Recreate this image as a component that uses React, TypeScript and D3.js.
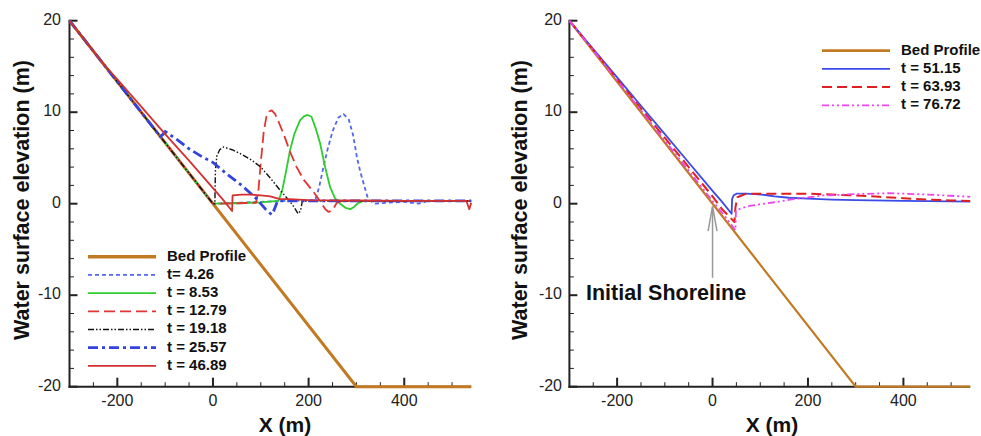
import React from 'react';
import * as d3 from 'd3';

// ---------- data ----------
const xTicks = [-200, 0, 200, 400];
const xMinorTicks = [-250, -150, -100, -50, 50, 100, 150, 250, 300, 350, 450, 500];
const yTicks = [-20, -10, 0, 10, 20];
const yMinorTicks = [-18, -16, -14, -12, -8, -6, -4, -2, 2, 4, 6, 8, 12, 14, 16, 18];

const bedX = [-300, 300, 540];
const bedY = [20, -20, -20];

// left panel
const t426X = [-300, 0, 50, 100, 150, 200, 214, 222, 231, 240, 250, 262, 273, 284, 293, 301, 308, 315, 325, 340, 360, 400, 430, 450, 500, 540];
const t426Y = [20, 0, 0.1, 0.2, 0.3, 0.35, 0.4, 1.8, 4.0, 6.0, 7.9, 9.4, 9.8, 9.2, 7.5, 5.1, 3.5, 2.2, 0.4, 0.0, 0.1, 0.2, 0.0, 0.3, 0.3, 0.3];

const t853X = [-300, 0, 50, 100, 137, 145, 152, 161, 170, 182, 190, 198, 206, 215, 224, 235, 245, 255, 266, 277, 287, 295, 303, 315, 350, 400, 450, 500, 540];
const t853Y = [20, 0, 0.05, 0.15, 0.3, 1.5, 3.3, 5.8, 7.6, 9.1, 9.55, 9.7, 9.5, 8.2, 6.6, 3.9, 1.8, 0.6, 0.0, -0.45, -0.6, -0.35, 0.05, 0.3, 0.3, 0.3, 0.3, 0.3, 0.3];

const t1279X = [-300, 0, 50, 90, 95, 100, 106, 112, 118, 123, 130, 140, 150, 161, 175, 190, 210, 225, 235, 242, 250, 259, 270, 300, 350, 400, 450, 500, 540];
const t1279Y = [20, 0, 0.05, 0.1, 1.4, 4.5, 7.8, 9.6, 10.1, 10.2, 9.8, 8.6, 7.3, 5.7, 4.0, 2.6, 1.3, 0.2, -0.6, -0.9, -0.7, 0.1, 0.3, 0.3, 0.3, 0.3, 0.3, 0.3, 0.3];

const t1918X = [-300, 0, 4, 5, 8, 14, 22, 40, 60, 80, 100, 120, 140, 160, 170, 178, 183, 187, 200, 250, 300, 350, 400, 450, 500, 540];
const t1918Y = [20, 0, 0, 3.5, 5.2, 5.9, 6.2, 5.9, 5.4, 4.8, 4.0, 2.8, 1.5, 0.3, -0.4, -1.1, -0.8, 0.3, 0.3, 0.3, 0.3, 0.3, 0.3, 0.3, 0.3, 0.3];

const t2557X = [-300, -110, -104, -100, -75, -50, -25, 0, 30, 60, 90, 110, 123, 127, 135, 150, 200, 250, 300, 350, 400, 450, 500, 540];
const t2557Y = [20, 7.33, 7.6, 7.9, 7.0, 6.0, 5.2, 4.5, 3.2, 2.0, 0.6, -0.6, -1.2, -0.8, 0.3, 0.3, 0.3, 0.3, 0.3, 0.3, 0.3, 0.3, 0.3, 0.3];

const t4689X = [-300, -228, -200, -150, -100, -50, 0, 20, 40, 41, 60, 80, 100, 120, 140, 160, 200, 300, 400, 500, 530, 536, 540];
const t4689Y = [20, 15.2, 13.6, 10.6, 7.6, 4.7, 1.7, 0.5, -0.8, 0.9, 1.0, 1.0, 0.9, 0.8, 0.5, 0.5, 0.4, 0.35, 0.3, 0.3, 0.3, -0.6, 0.1];

// right panel
const t5115X = [-300, -250, -200, -150, -100, -50, 0, 20, 40, 41, 44, 50, 70, 90, 110, 130, 160, 200, 250, 300, 400, 500, 540];
const t5115Y = [20, 16.9, 13.8, 10.7, 7.6, 4.5, 1.4, 0.2, -1.1, 0.5, 0.9, 1.1, 1.1, 1.05, 0.95, 0.8, 0.65, 0.55, 0.45, 0.38, 0.3, 0.25, 0.22];

const t6393X = [-300, -250, -200, -150, -100, -50, 0, 20, 46, 48, 52, 71, 100, 150, 200, 250, 300, 350, 400, 450, 500, 540];
const t6393Y = [20, 16.8, 13.6, 10.4, 7.2, 4.0, 0.8, -0.6, -2.0, -0.4, 0.7, 1.1, 1.1, 1.1, 1.1, 1.0, 0.9, 0.75, 0.6, 0.45, 0.35, 0.3];

const t7672X = [-300, -250, -200, -150, -100, -50, 0, 25, 48, 49, 60, 78, 100, 134, 162, 200, 232, 300, 371, 450, 540];
const t7672Y = [20, 16.75, 13.5, 10.2, 6.9, 3.6, 0.3, -1.3, -2.9, -0.75, -0.5, -0.25, -0.05, 0.18, 0.45, 0.7, 0.9, 1.05, 1.15, 1.0, 0.75];

const leftLabels = ['Bed Profile', 't= 4.26', 't = 8.53', 't = 12.79', 't = 19.18', 't = 25.57', 't = 46.89'];
const rightLabels = ['Bed Profile', 't = 51.15', 't = 63.93', 't = 76.72'];

const xTitle = 'X (m)';
const yTitle = 'Water surface elevation (m)';
const annotation = 'Initial Shoreline';

// ---------- styles ----------
type Style = { color: string; width: number; dash?: string };
const bedStyleL: Style = { color: '#c27a22', width: 3 };
const bedStyleR: Style = { color: '#c27a22', width: 2.2 };
const leftStyles: Style[] = [
  { color: '#5566ee', width: 1.8, dash: '4 3' },
  { color: '#2ecc2e', width: 1.8 },
  { color: '#e03535', width: 1.8, dash: '11 5' },
  { color: '#111111', width: 1.4, dash: '6 2 1.5 2 1.5 2' },
  { color: '#3344dd', width: 2.8, dash: '10 4 3 4' },
  { color: '#d33030', width: 1.8 },
];
const rightStyles: Style[] = [
  { color: '#3a4be8', width: 1.8 },
  { color: '#e02020', width: 2, dash: '10 5' },
  { color: '#ee44ee', width: 1.8, dash: '7 3 2 3 2 3' },
];

const FONT = '"Liberation Sans", Arial, Helvetica, sans-serif';

const zip = (xs: number[], ys: number[]) => xs.map((x, i) => [x, ys[i]] as [number, number]);

type PanelProps = {
  x0: number; x1: number;
  series: { xs: number[]; ys: number[]; style: Style }[];
  bedStyle: Style;
  labels: string[];
  legendStyles: Style[];
  legend: { lx0: number; lx1: number; tx: number; y0: number; dy: number };
  xTitleX: number;
  yTitleX: number;
  yLabelX: number;
  children?: (x: d3.ScaleLinear<number, number>, y: d3.ScaleLinear<number, number>) => React.ReactNode;
};

function Panel(p: PanelProps) {
  const x = d3.scaleLinear().domain([-300, 540]).range([p.x0, p.x1]);
  const y = d3.scaleLinear().domain([-20, 20]).range([386.7, 20.7]);
  const line = d3.line<[number, number]>().x(d => x(d[0])).y(d => y(d[1]));
  const axisColor = '#222';
  return (
    <g>
      {/* axes */}
      <line x1={x(-300)} x2={x(-300)} y1={y(20) - 1} y2={y(-20) + 1} stroke={axisColor} strokeWidth={2} />
      <line x1={x(-300) - 1} x2={x(540)} y1={y(-20)} y2={y(-20)} stroke={axisColor} strokeWidth={2} />
      {xTicks.map(t => (
        <g key={'xt' + t}>
          <line x1={x(t)} x2={x(t)} y1={y(-20)} y2={y(-20) - 9} stroke={axisColor} strokeWidth={2} />
          <text x={x(t)} y={402} textAnchor="middle" dominantBaseline="middle" fontSize={16} fill="#222" fontFamily={FONT}>{t}</text>
        </g>
      ))}
      {xMinorTicks.map(t => (
        <line key={'xm' + t} x1={x(t)} x2={x(t)} y1={y(-20)} y2={y(-20) - 4.5} stroke={axisColor} strokeWidth={1} />
      ))}
      {yTicks.map(t => (
        <g key={'yt' + t}>
          <line x1={x(-300)} x2={x(-300) + 8} y1={y(t)} y2={y(t)} stroke={axisColor} strokeWidth={2} />
          <text x={p.yLabelX} y={y(t)} textAnchor="end" dominantBaseline="middle" fontSize={16} fill="#222" fontFamily={FONT}>{t}</text>
        </g>
      ))}
      {yMinorTicks.map(t => (
        <line key={'ym' + t} x1={x(-300)} x2={x(-300) + 4.5} y1={y(t)} y2={y(t)} stroke={axisColor} strokeWidth={1} />
      ))}
      {/* bed */}
      <path d={line(zip(bedX, bedY)) || ''} fill="none" stroke={p.bedStyle.color} strokeWidth={p.bedStyle.width} />
      {p.series.map((s, i) => (
        <path key={i} d={line(zip(s.xs, s.ys)) || ''} fill="none" stroke={s.style.color}
          strokeWidth={s.style.width} strokeDasharray={s.style.dash} strokeLinejoin="round" />
      ))}
      <text x={p.xTitleX} y={432} textAnchor="middle" fontSize={21} fontWeight="bold" fill="#111" fontFamily={FONT}>{xTitle}</text>
      <text transform={`translate(${p.yTitleX},${200}) rotate(-90)`} textAnchor="middle" fontSize={21.5} fontWeight="bold" fill="#111" fontFamily={FONT}>{yTitle}</text>
      {/* legend */}
      {p.labels.map((lab, i) => {
        const st = i === 0 ? { ...p.bedStyle, width: p.bedStyle.width + 0.6 } : p.legendStyles[i - 1];
        const yy = p.legend.y0 + i * p.legend.dy;
        return (
          <g key={'lg' + i}>
            <line x1={p.legend.lx0} x2={p.legend.lx1} y1={yy} y2={yy} stroke={st.color} strokeWidth={st.width} strokeDasharray={st.dash} />
            <text x={p.legend.tx} y={yy} dominantBaseline="middle" fontSize={15} fontWeight="bold" fill="#111" fontFamily={FONT}>{lab}</text>
          </g>
        );
      })}
      {p.children ? p.children(x, y) : null}
    </g>
  );
}

export default function App() {
  const leftSeries = [
    { xs: t426X, ys: t426Y },
    { xs: t853X, ys: t853Y },
    { xs: t1279X, ys: t1279Y },
    { xs: t1918X, ys: t1918Y },
    { xs: t2557X, ys: t2557Y },
    { xs: t4689X, ys: t4689Y },
  ].map((s, i) => ({ ...s, style: leftStyles[i] }));
  const rightSeries = [
    { xs: t5115X, ys: t5115Y },
    { xs: t6393X, ys: t6393Y },
    { xs: t7672X, ys: t7672Y },
  ].map((s, i) => ({ ...s, style: rightStyles[i] }));

  return (
    <svg width={981} height={436} style={{ position: 'absolute', left: 0, top: 0, background: '#fff' }}>
      <rect width={981} height={436} fill="#fff" />
      <Panel x0={69.5} x1={471.2} series={leftSeries} bedStyle={bedStyleL} labels={leftLabels} legendStyles={leftStyles}
        legend={{ lx0: 88, lx1: 156, tx: 167, y0: 256.7, dy: 18.2 }} xTitleX={285} yTitleX={29} yLabelX={61} />
      <Panel x0={569.4} x1={970.2} series={rightSeries} bedStyle={bedStyleR} labels={rightLabels} legendStyles={rightStyles}
        legend={{ lx0: 822, lx1: 890, tx: 901, y0: 50.7, dy: 18.2 }} xTitleX={772} yTitleX={527} yLabelX={562}>
        {(x, y) => (
          <g>
            <line x1={x(0)} x2={x(0)} y1={y(-8.1)} y2={y(-0.3)} stroke="#999" strokeWidth={1.5} />
            <polyline points={`${x(0) - 4.5},${y(-3.0)} ${x(0)},${y(-0.3)} ${x(0) + 4.5},${y(-3.0)}`} fill="none" stroke="#999" strokeWidth={1.5} />
            <text x={586} y={300} fontSize={21.5} fontWeight="bold" fill="#111" fontFamily={FONT}>{annotation}</text>
          </g>
        )}
      </Panel>
    </svg>
  );
}
